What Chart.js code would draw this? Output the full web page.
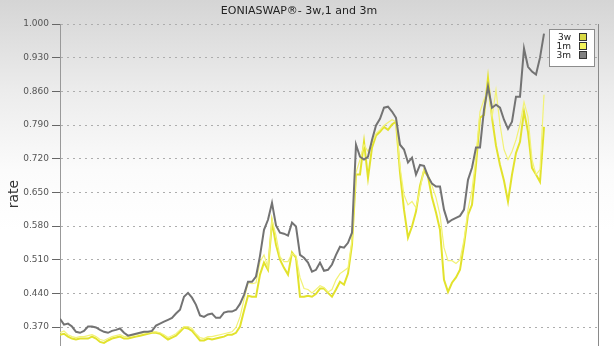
<!DOCTYPE html>
<html>
<head>
<meta charset="utf-8">
<script src="https://cdn.jsdelivr.net/npm/chart.js@4"></script>
<style>
  html, body { margin: 0; padding: 0; overflow: hidden; }
  body { background: linear-gradient(to bottom, #d5d5d5 0px, #ececec 90px, #fbfbfb 170px, #ffffff 230px); }
  #wrap { width: 614px; height: 364px; }
</style>
</head>
<body>
<div id="wrap"><canvas id="chart" width="614" height="364"></canvas></div>
<script>
const days = Array.from({ length: 122 }, (_, i) => i);

const yTicks = [1.000, 0.930, 0.860, 0.790, 0.720, 0.650, 0.580, 0.510, 0.440, 0.370];

const rate3w = [
  0.354, 0.356, 0.350, 0.346, 0.344, 0.346, 0.346, 0.346, 0.350, 0.346,
  0.339, 0.337, 0.342, 0.346, 0.348, 0.350, 0.346, 0.346, 0.348, 0.350,
  0.352, 0.354, 0.356, 0.358, 0.358, 0.356, 0.350, 0.344, 0.348, 0.352,
  0.360, 0.369, 0.367, 0.362, 0.352, 0.342, 0.342, 0.346, 0.344, 0.346,
  0.348, 0.350, 0.354, 0.354, 0.358, 0.371, 0.404, 0.435, 0.433, 0.433,
  0.479, 0.504, 0.489, 0.589, 0.541, 0.510, 0.493, 0.479, 0.525, 0.514,
  0.433, 0.433, 0.435, 0.433, 0.439, 0.450, 0.450, 0.441, 0.433, 0.448,
  0.464, 0.458, 0.481, 0.541, 0.687, 0.687, 0.755, 0.680, 0.743, 0.768,
  0.776, 0.786, 0.780, 0.791, 0.797, 0.691, 0.614, 0.556, 0.579, 0.610,
  0.664, 0.695, 0.683, 0.639, 0.608, 0.572, 0.468, 0.443, 0.462, 0.473,
  0.489, 0.541, 0.603, 0.624, 0.707, 0.805, 0.811, 0.888, 0.805, 0.747,
  0.707, 0.674, 0.631, 0.687, 0.732, 0.755, 0.818, 0.776, 0.701, 0.687,
  0.672, 0.786
];

const rate1m = [
  0.358, 0.362, 0.354, 0.350, 0.348, 0.350, 0.350, 0.352, 0.354, 0.350,
  0.344, 0.342, 0.346, 0.350, 0.352, 0.354, 0.350, 0.350, 0.352, 0.354,
  0.356, 0.358, 0.358, 0.360, 0.360, 0.358, 0.354, 0.348, 0.352, 0.356,
  0.364, 0.371, 0.371, 0.367, 0.356, 0.348, 0.346, 0.350, 0.350, 0.352,
  0.354, 0.356, 0.358, 0.360, 0.369, 0.391, 0.427, 0.462, 0.460, 0.462,
  0.506, 0.520, 0.493, 0.593, 0.560, 0.516, 0.506, 0.506, 0.523, 0.518,
  0.473, 0.450, 0.448, 0.441, 0.448, 0.456, 0.452, 0.443, 0.448, 0.468,
  0.481, 0.487, 0.493, 0.551, 0.691, 0.718, 0.749, 0.735, 0.753, 0.772,
  0.780, 0.789, 0.795, 0.801, 0.797, 0.703, 0.645, 0.624, 0.631, 0.618,
  0.655, 0.699, 0.687, 0.664, 0.639, 0.603, 0.535, 0.508, 0.508, 0.502,
  0.510, 0.551, 0.614, 0.655, 0.724, 0.818, 0.843, 0.863, 0.805, 0.863,
  0.791, 0.739, 0.718, 0.735, 0.759, 0.791, 0.838, 0.807, 0.718, 0.687,
  0.697, 0.853
];

const rate3m = [
  0.387, 0.375, 0.377, 0.371, 0.360, 0.358, 0.362, 0.371, 0.371, 0.369,
  0.364, 0.360, 0.358, 0.362, 0.364, 0.367, 0.358, 0.352, 0.354, 0.356,
  0.358, 0.360, 0.360, 0.362, 0.373, 0.377, 0.381, 0.385, 0.389, 0.398,
  0.406, 0.433, 0.441, 0.431, 0.416, 0.394, 0.391, 0.396, 0.398, 0.389,
  0.389, 0.400, 0.402, 0.402, 0.406, 0.418, 0.437, 0.464, 0.464, 0.475,
  0.518, 0.572, 0.593, 0.628, 0.581, 0.566, 0.564, 0.560, 0.587, 0.579,
  0.520, 0.514, 0.504, 0.485, 0.489, 0.504, 0.487, 0.489, 0.500, 0.520,
  0.537, 0.535, 0.545, 0.566, 0.749, 0.724, 0.718, 0.724, 0.759, 0.789,
  0.803, 0.826, 0.828, 0.818, 0.805, 0.749, 0.739, 0.712, 0.722, 0.687,
  0.707, 0.705, 0.683, 0.668, 0.662, 0.662, 0.614, 0.587, 0.593, 0.597,
  0.601, 0.614, 0.676, 0.701, 0.743, 0.743, 0.822, 0.870, 0.826, 0.832,
  0.826, 0.801, 0.782, 0.797, 0.849, 0.849, 0.949, 0.911, 0.901, 0.895,
  0.930, 0.980
];

const seriesNames = ['3w', '1m', '3m'];
const seriesColors = ['#e2e22c', '#f2f276', '#737373'];
const swatchColors = ['#d9d944', '#f4f45a', '#808080'];

const toPoints = arr => days.map((d, i) => ({ x: d, y: arr[i] }));

// legend box inside the plot, top right, label then swatch
const boxLegend = {
    id: 'boxLegend',
    afterDraw(chart) {
        const ctx = chart.ctx;
        const right = chart.chartArea.right;
        const x0 = right - 49, y0 = 29, w = 45, h = 37;
        ctx.save();
        ctx.fillStyle = '#ffffff';
        ctx.fillRect(x0 + 0.5, y0 + 0.5, w, h);
        ctx.strokeStyle = '#8c8c8c';
        ctx.lineWidth = 1;
        ctx.strokeRect(x0 + 0.5, y0 + 0.5, w, h);
        ctx.font = '9px "DejaVu Sans"';
        ctx.textAlign = 'right';
        ctx.textBaseline = 'middle';
        seriesNames.forEach((name, i) => {
            const cy = y0 + 8 + i * 9;
            ctx.fillStyle = '#222';
            ctx.fillText(name, x0 + 22, cy + 0.5);
            ctx.fillStyle = swatchColors[i];
            ctx.fillRect(x0 + 30.5, cy - 3.5, 7, 7);
            ctx.strokeStyle = '#333';
            ctx.strokeRect(x0 + 30.5, cy - 3.5, 7, 7);
        });
        // right frame line
        ctx.strokeStyle = '#8a8a8a';
        ctx.beginPath();
        ctx.moveTo(right + 0.5, chart.chartArea.top);
        ctx.lineTo(right + 0.5, chart.chartArea.bottom);
        ctx.stroke();
        ctx.restore();
    }
};

new Chart(document.getElementById('chart'), {
    type: 'line',
    data: {
        datasets: [
            { label: '3w', data: toPoints(rate3w), borderColor: seriesColors[0], borderWidth: 2, order: 2 },
            { label: '1m', data: toPoints(rate1m), borderColor: seriesColors[1], borderWidth: 1.2, order: 1 },
            { label: '3m', data: toPoints(rate3m), borderColor: seriesColors[2], borderWidth: 2, order: 0 }
        ]
    },
    options: {
        responsive: false,
        animation: false,
        devicePixelRatio: 1,
        layout: { padding: { left: 0, right: 16, top: 0, bottom: 0 } },
        elements: { point: { radius: 0 }, line: { tension: 0, fill: false } },
        plugins: {
            legend: { display: false },
            tooltip: { enabled: false },
            title: {
                display: true,
                text: 'EONIASWAP®- 3w,1 and 3m',
                font: { family: 'DejaVu Sans', size: 11, weight: 'normal' },
                color: '#222',
                padding: { top: 5, bottom: 5.8 }
            }
        },
        scales: {
            x: { type: 'linear', min: 0, max: 134.5, display: false },
            y: {
                min: 0.2931, max: 1.0,
                afterBuildTicks: s => { s.ticks = yTicks.map(v => ({ value: v })); },
                afterFit: s => { s.width = 60; s.paddingTop = 0; s.paddingBottom = 0; },
                ticks: {
                    callback: v => Number(v).toFixed(3),
                    font: { family: 'DejaVu Sans', size: 9 },
                    color: '#555',
                    padding: 3
                },
                grid: { color: '#adadad', tickColor: '#666', tickLength: 8, tickBorderDash: [] },
                border: { color: '#999', dash: [2, 4] },
                title: {
                    display: true, text: 'rate',
                    font: { family: 'DejaVu Sans', size: 14 },
                    color: '#333',
                    padding: { top: 6, bottom: 0 }
                }
            }
        }
    },
    plugins: [boxLegend]
});
</script>
</body>
</html>
